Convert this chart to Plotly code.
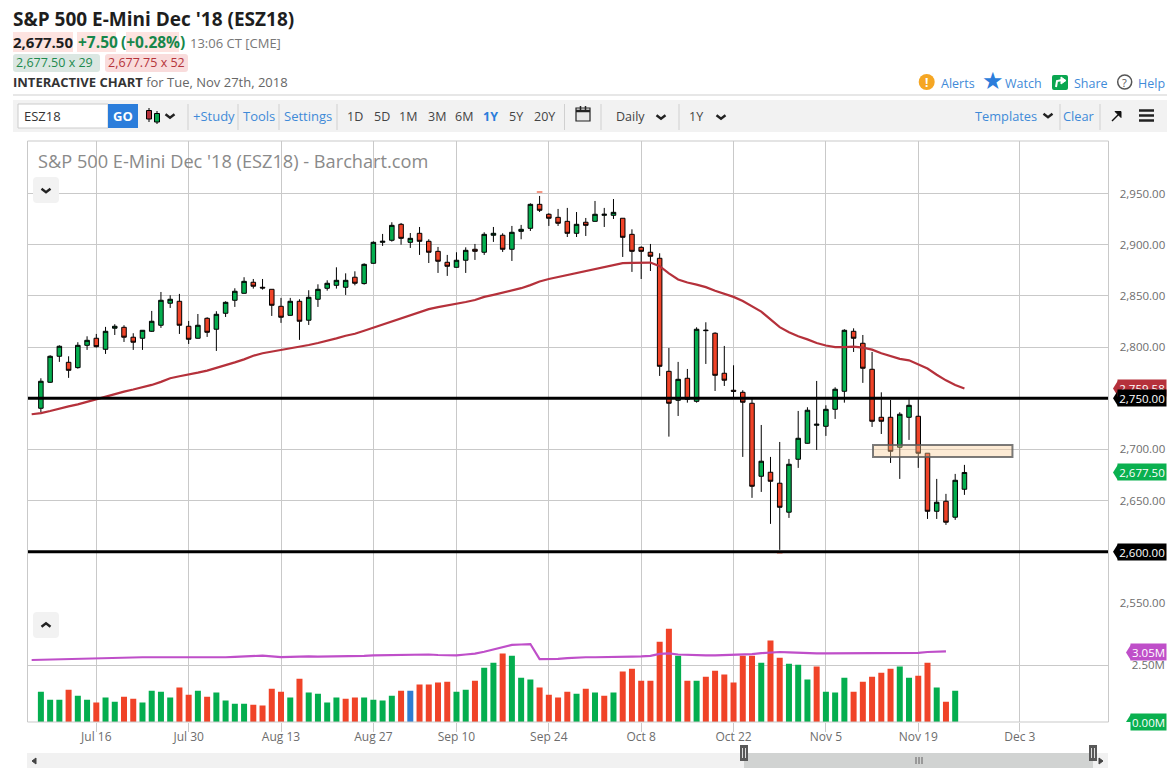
import plotly.graph_objects as go

W, H = 1171, 778
FONT = "Open Sans"

# ---- data: daily bars, index 0 = Jul 6 2018 ... index 100 = Nov 27 2018
highs = [2769.5,2792,2801.7,2791,2804.7,2810.5,2812.8,2819.7,2822.3,2821.3,2813.5,2816.4,2835.3,2853.8,2850.6,2851.9,2825.5,2832.3,2829.1,2835,
 2844.7,2857.4,2868.2,2866.5,2866.5,2856.4,2848,2848,2846.7,2855.5,2861.3,2865.2,2877.9,2872,2874,2881.8,2903.3,2910.5,2921.9,2921.2,
 2911.4,2917.3,2905.3,2897.8,2890,2892.6,2897.4,2900.7,2912.1,2917.3,2911.1,2918.3,2919.3,2940.4,2947.6,2930.7,2934.9,2935.9,2931.9,2926.1,
 2942.7,2935.9,2944.6,2925.8,2915,2898.4,2900.7,2891.6,2799.1,2785.5,2778.6,2819.3,2824.2,2814.4,2801.1,2782.2,2757.8,2750,2723.9,2692.7,
 2707.3,2690.7,2737.6,2741.2,2766.9,2743.1,2760.7,2817.4,2818.3,2811.8,2795.2,2755.8,2748.4,2736.3,2749,2749,2696.3,2671.2,2656.6,2676.1,2684.9]
body_top = [2766.6,2791,2800.8,2785.1,2801.7,2806.6,2808.6,2815.4,2820.3,2819.3,2809.6,2816.4,2825.2,2845.7,2846.7,2844.7,2820.3,2821.3,2828.1,2832,
 2843.7,2854.5,2864.2,2863.3,2858.4,2856.4,2839.8,2844.7,2844.7,2848.6,2856.4,2862.3,2865.2,2865.2,2868.2,2880.8,2902.3,2903.3,2918.9,2919.9,
 2906.2,2911.1,2903.3,2893.5,2882.8,2884.8,2894.5,2895.5,2910.1,2911.1,2909.2,2912.1,2915,2939.4,2939.4,2929.7,2926.7,2922.8,2919.9,2921.9,
 2929.7,2929.7,2931.6,2925.8,2910.1,2897.4,2892.6,2886.7,2776.3,2768.5,2769.5,2817.4,2816.4,2813.5,2774.4,2757.8,2755.8,2745.1,2688.5,2677.7,
 2667,2685.5,2710.9,2738.3,2724.6,2739.2,2758.8,2816.4,2815.4,2803.7,2778.3,2731.4,2731.4,2734.4,2743.1,2732.4,2696.3,2648.4,2649.4,2669.9,2677.5]
body_bot = [2740.2,2765.6,2791,2777.3,2779.9,2801.7,2800.4,2797.8,2818.4,2809.6,2804.7,2808.6,2815.4,2821.3,2842.8,2821.3,2807.6,2808.6,2814.4,2817.4,
 2833,2845.7,2852.5,2859.4,2857.7,2840.8,2829.1,2831,2825.2,2826.2,2846.7,2857.4,2860.3,2858.4,2862.3,2862,2881.8,2902.3,2904.3,2906.2,
 2902.3,2903.3,2892.6,2883.8,2878.9,2877.9,2884.8,2893.5,2892.6,2909.2,2895.5,2895.5,2913,2916,2933.6,2925.8,2920.9,2911.1,2911.1,2918.9,
 2922.8,2928.7,2928.7,2907.2,2893.5,2893.5,2888.7,2781.2,2745.1,2748,2749,2747,2816,2772.4,2767.6,2756.8,2746.1,2664,2673.8,2668.9,
 2643.5,2638.7,2690.4,2706,2723.6,2722.6,2739.2,2756.8,2808.6,2779.3,2727.5,2727.5,2698.2,2702.1,2731.4,2696.3,2639.6,2639.6,2628.9,2633.8,2661.1]
lows = [2736.3,2765,2785.5,2769.9,2778.9,2797.2,2799.5,2793.3,2811.8,2805,2797.2,2797.2,2814.8,2818.7,2838.2,2812.8,2803,2808.3,2809.9,2796.2,
 2829.4,2839.2,2852.2,2857.1,2856.1,2830.4,2823.6,2830.7,2807,2821.6,2839.2,2855.1,2857.1,2850.9,2860.3,2861,2881.5,2898.8,2903,2900,
 2896.8,2890,2882.1,2872.4,2869.5,2877.6,2872.4,2885.1,2890,2902.7,2892.9,2884.1,2905.3,2913.4,2931.9,2918.3,2918.3,2907.5,2907.5,2908.5,
 2922.5,2917.3,2925.1,2888,2873.4,2866.5,2874.3,2771.8,2712.5,2732.7,2745.7,2745.7,2783.5,2757.1,2762,2751,2692.7,2652.7,2658.5,2627.3,
 2601.9,2633.1,2682,2705.7,2699.5,2713.2,2729.8,2745.7,2795.2,2765,2722,2715.1,2686.8,2671.2,2709.3,2682,2632.1,2632.1,2626.3,2631.2,2655.6]
candle_dir = list("GGGRGGRGGRRGGGGRRGRG" "GGGRRRRGRGGGGGRGGGGR" "GRRRRGGRGGRGGGRRRRGR" "GGGRRRRRRGRGGRRRRRGR" "RGGGGGGGRRRRRGGRRGRGG")

volume = [1.33,.98,.98,1.42,1.15,.98,.85,1.07,.89,1.11,1.02,.85,1.37,1.33,1.07,1.51,1.20,1.37,1.11,1.29,
 .94,.80,.80,.76,.72,1.46,1.33,1.07,1.90,1.29,1.24,.85,1.07,1.02,1.07,1.07,.98,.94,1.15,1.37,
 1.37,1.64,1.64,1.73,1.77,1.33,1.42,1.81,2.38,2.60,3.00,2.91,1.94,1.86,1.51,1.20,1.07,1.33,1.24,1.46,
 1.29,1.15,1.29,2.21,2.34,1.81,1.81,3.52,4.09,2.91,1.81,1.81,1.99,2.25,2.08,1.73,2.91,2.91,2.60,3.57,
 2.82,2.56,2.51,1.86,2.43,1.33,1.29,1.94,1.33,1.77,1.99,2.16,2.34,2.43,1.94,2.03,2.60,1.51,.89,1.37]
volume_dir = list("GGGRGGRGGRRGGGGRRGRG" "GGGRRRRGRGGGGRRGGGGR" "BRRRRGGRGGRGGGRRRRGR" "GRGRRRRRRGRGRRRRRRGR" "RGGGRGGGRRRRRGGRRGRG")

price_ma = [2734.4,2735.5,2737.5,2740,2742,2744,2746.5,2749,2752,2754.5,2756.5,2758.5,2760.5,2763,2766,2769.5,2771.5,2773,2775,2777,2779.5,
 2782,2785,2788,2791.5,2794,2795.5,2797,2798.5,2800,2802,2804,2806,2808.5,2811,2813,2816,2819,2822.5,2825.5,2828.5,
 2831.5,2834.5,2837,2839,2840.5,2842,2844,2846,2849,2851,2853,2855,2857.5,2860.5,2864,2866.5,2868.5,2870,2872,2874,
 2876.5,2878.5,2880.5,2882,2882.3,2882.6,2882.5,2879,2872,2866,2863,2861,2858.5,2855,2852,2849,2845,2840,2834.6,2827,
 2819.5,2814.5,2810.5,2807.5,2804,2801.5,2800,2800,2800.5,2799.5,2797.5,2794,2791,2788.5,2787,2783,2779,2773,2767.5,2763,2759.6]
volume_ma = [2.72,2.73,2.74,2.75,2.76,2.78,2.80,2.81,2.83,2.84,2.84,2.84,2.84,2.84,2.84,2.84,2.82,2.81,2.81,2.81,2.82,
 2.84,2.86,2.88,2.90,2.91,2.88,2.85,2.86,2.88,2.88,2.87,2.87,2.88,2.88,2.89,2.90,2.92,2.93,2.94,2.95,
 2.96,2.97,2.96,2.94,2.92,2.92,2.96,3.00,3.08,3.18,3.28,3.38,3.40,3.42,2.76,2.76,2.77,2.80,2.83,2.84,
 2.84,2.84,2.85,2.86,2.87,2.88,2.90,2.99,3.01,2.96,2.94,2.93,2.92,2.92,2.93,2.94,2.96,2.98,3.02,3.05,
 3.07,3.05,3.03,3.02,3.01,3.01,3.01,3.01,3.00,3.00,3.01,3.01,3.00,3.00,3.00,3.03,3.07,3.10,3.10]

tick_labels = ["Jul 16","Jul 30","Aug 13","Aug 27","Sep 10","Sep 24","Oct 8","Oct 22","Nov 5","Nov 19","Dec 3"]
tick_index = [6,16,26,36,45,55,65,75,85,95,106]
price_ticks = [2550,2650,2700,2800,2850,2900,2950]
support_levels = [2750, 2600]
zone_low, zone_high = 2692.7, 2704.4
zone_from, zone_to = 90.1, 105.2
extreme_idx = [54, 80]
extreme_val = [2951.5, 2599.0]

GREEN, RED, BLUE = "#04ae4f", "#f04328", "#2f7dd2"
LINK = "#3f8ad8"
GRID = "#c9c9c9"

n = len(highs)
x_c = list(range(n))
opens, closes = [], []
for i in range(n):
    if candle_dir[i] == "G":
        opens.append(body_bot[i]); closes.append(body_top[i])
    else:
        opens.append(body_top[i]); closes.append(body_bot[i])

px = lambda x: x / W
py = lambda y: 1 - y / H

fig = go.Figure()
fig.add_trace(go.Candlestick(x=x_c, open=opens, high=highs, low=lows, close=closes, xaxis="x", yaxis="y",
    increasing=dict(fillcolor=GREEN, line=dict(color="#000000", width=1)),
    decreasing=dict(fillcolor=RED, line=dict(color="#000000", width=1)),
    whiskerwidth=0, hoverinfo="skip"))
fig.add_trace(go.Scatter(x=list(range(-1, n)), y=price_ma, mode="lines", xaxis="x", yaxis="y",
    line=dict(color="#b5313b", width=2.2), hoverinfo="skip"))
fig.add_trace(go.Scatter(x=extreme_idx, y=extreme_val, mode="markers", xaxis="x", yaxis="y",
    marker=dict(symbol="line-ew", size=4, line=dict(color="#f0735a", width=1.5)), hoverinfo="skip"))
cmap = {"G": GREEN, "R": RED, "B": BLUE}
fig.add_trace(go.Bar(x=list(range(len(volume))), y=volume, marker=dict(color=[cmap[c] for c in volume_dir], line=dict(width=0)),
    width=0.65, xaxis="x", yaxis="y2", hoverinfo="skip"))
fig.add_trace(go.Scatter(x=list(range(-1, len(volume_ma) - 1)), y=volume_ma, mode="lines", xaxis="x", yaxis="y2",
    line=dict(color="#bf4fc9", width=2.2), hoverinfo="skip"))

shapes, ann = [], []

def rect(x0, y0, x1, y1, fill=None, line=None, lw=1, layer="above"):
    shapes.append(dict(type="rect", xref="paper", yref="paper", x0=px(x0), x1=px(x1), y0=py(y0), y1=py(y1),
        fillcolor=fill or "rgba(0,0,0,0)", line=dict(color=line or "rgba(0,0,0,0)", width=lw if line else 0), layer=layer))

def rrect(x0, y0, x1, y1, r, fill):
    p = (f"M{px(x0+r)},{py(y0)} L{px(x1-r)},{py(y0)} Q{px(x1)},{py(y0)} {px(x1)},{py(y0+r)} L{px(x1)},{py(y1-r)} "
         f"Q{px(x1)},{py(y1)} {px(x1-r)},{py(y1)} L{px(x0+r)},{py(y1)} Q{px(x0)},{py(y1)} {px(x0)},{py(y1-r)} "
         f"L{px(x0)},{py(y0+r)} Q{px(x0)},{py(y0)} {px(x0+r)},{py(y0)} Z")
    shapes.append(dict(type="path", xref="paper", yref="paper", path=p, fillcolor=fill, line=dict(width=0), layer="above"))

def poly(pts, color, width=2, fill=None, close=False):
    p = "M" + " L".join(f"{px(a)},{py(b)}" for a, b in pts) + (" Z" if close else "")
    shapes.append(dict(type="path", xref="paper", yref="paper", path=p, fillcolor=fill or "rgba(0,0,0,0)",
                       line=dict(color=color, width=width), layer="above"))

def circle(cx, cy, r, fill=None, line=None, lw=1.5):
    shapes.append(dict(type="circle", xref="paper", yref="paper", x0=px(cx-r), x1=px(cx+r), y0=py(cy-r), y1=py(cy+r),
        fillcolor=fill or "rgba(0,0,0,0)", line=dict(color=line or "rgba(0,0,0,0)", width=lw if line else 0), layer="above"))

def txt(x, y, s, size=13, color="#333", anchor="left", family=FONT):
    ann.append(dict(xref="paper", yref="paper", x=px(x), y=py(y), text=s, showarrow=False, xanchor=anchor, yanchor="middle",
        font=dict(size=size, color=color, family=family), borderpad=0, borderwidth=0))

def vline(x, y0, y1):
    poly([(x, y0), (x, y1)], "#d0d0d0", 1)

def chevron(cx, cy, w=4.5, h=3.5, up=False, color="#222", lw=2.4):
    s = -1 if up else 1
    poly([(cx-w, cy-s*h/2), (cx, cy+s*h/2), (cx+w, cy-s*h/2)], color, lw)

# price levels and zone
for lv in support_levels:
    shapes.append(dict(type="line", xref="paper", yref="y", x0=px(27.5), x1=px(1108.5), y0=lv, y1=lv,
                       line=dict(color="#000000", width=3), layer="above"))
shapes.append(dict(type="rect", xref="x", yref="y", x0=zone_from, x1=zone_to, y0=zone_low, y1=zone_high,
                   fillcolor="rgba(250,205,150,0.4)", line=dict(color="rgba(90,90,90,0.8)", width=2), layer="above"))

# price / volume tags on the right
def tag(val, yref, text, color, x0, x1):
    shapes.append(dict(type="path", xref="paper", yref=yref, xsizemode="pixel", ysizemode="pixel",
        xanchor=px(x0), yanchor=val, path="M-5,0 L0,-8 L0,8 Z", fillcolor=color, line=dict(width=0), layer="above"))
    ann.append(dict(xref="paper", yref=yref, x=px((x0+x1)/2), y=val, text=text, showarrow=False, xanchor="center", yanchor="middle",
        width=x1-x0, height=16, bgcolor=color, borderpad=0, font=dict(size=11.5, color="#ffffff", family=FONT)))

tag(price_ma[-1], "y", "2,759.58", "#b5313b", 1118, 1166)
tag(2750, "y", "2,750.00", "#000000", 1118, 1166)
tag(closes[-1], "y", "2,677.50", "#0ab04f", 1118, 1166)
tag(2600, "y", "2,600.00", "#000000", 1118, 1166)
tag(3.05, "y2", "3.05M", "#bf4fc9", 1131, 1166)
tag(0, "y2", "0.00M", "#0ab04f", 1131, 1166)

# header
txt(13, 19, "<b>S&P 500 E-Mini Dec '18 (ESZ18)</b>", 19, "#1e1e1e")
rect(13, 32, 73, 52, "#fde3e0"); rect(77, 32, 116, 52, "#fde3e0"); rect(126, 32, 179, 52, "#fde3e0")
txt(13, 42.5, "<b>2,677.50</b>", 15, "#1e1e1e")
txt(77.5, 42.5, "<b>+7.50</b>", 15.5, "#17874b")
txt(120.5, 42.5, "<b>(+0.28%)</b>", 15.5, "#17874b")
txt(190, 43, "13:06 CT [CME]", 13, "#777")
rrect(13, 54, 100, 72, 3, "#dbe7e2"); rrect(105, 54, 188, 72, 3, "#f9dcdc")
txt(16, 63, "2,677.50 x 29", 12.5, "#1e8a4e")
txt(108, 63, "2,677.75 x 52", 12.5, "#b5333a")
txt(13, 82, "<b>INTERACTIVE CHART</b> <span style='color:#666'>for Tue, Nov 27th, 2018</span>", 13, "#333")

# header right
circle(926.7, 82, 8, "#f5a623")
txt(926.7, 82, "<b>!</b>", 12, "#ffffff", "center")
txt(941, 83, "Alerts", 12.5, LINK)
txt(993, 81.5, "★", 24, "#2b7ddb", "center", "DejaVu Sans")
txt(1005, 83, "Watch", 12.5, LINK)
rrect(1052, 75, 1068, 90, 2, "#0aa650")
poly([(1056, 87), (1057, 81), (1062, 80)], "#ffffff", 2)
poly([(1061, 77), (1066, 80.5), (1061, 84)], "#ffffff", 1, "#ffffff", True)
txt(1074, 83, "Share", 12.5, LINK)
circle(1124.7, 82, 7, None, "#555", 1.5)
txt(1124.7, 82, "?", 11, "#555", "center")
txt(1138, 83, "Help", 12.5, LINK)

# toolbar
poly([(13, 95), (1167, 95)], "#cfcfcf", 1)
rect(13, 100, 1167, 132, "#f2f2f2")
rect(18, 104, 108, 128, "#ffffff", "#cccccc", 1)
txt(24, 116, "ESZ18", 13, "#333")
rect(108, 104, 138, 128, "#2b7ddb")
txt(123, 116, "<b>GO</b>", 13, "#ffffff", "center")
poly([(149, 108), (149, 122)], "#000", 1)
rect(146.5, 110.5, 151.5, 119, "#b5313b", "#000", 1)
poly([(157, 111), (157, 124)], "#000", 1)
rect(154.5, 113.5, 159.5, 122, "#0aa650", "#000", 1)
chevron(170, 116)
for sx in (188, 238, 279, 337, 564.5, 601, 679, 1060, 1100):
    vline(sx, 104, 130)
txt(193, 116, "+Study", 13, LINK)
txt(243, 116, "Tools", 13, LINK)
txt(283.5, 116, "Settings", 13, LINK)
for tx, s in zip((347, 373.5, 399, 427.5, 455, 509, 533.5), ("1D", "5D", "1M", "3M", "6M", "5Y", "20Y")):
    txt(tx, 116, s, 12.5, "#444", "left")
txt(483, 116, "<b>1Y</b>", 12.5, "#2b7ddb")
# calendar icon
rect(576, 108, 590, 121, "#e8e8e8", "#222", 1.2)
poly([(576, 111), (590, 111)], "#222", 2.5)
for cx in (580.5, 585.5):
    poly([(cx, 106), (cx, 110)], "#222", 1.5)
txt(616, 116, "Daily", 12.5, "#444")
chevron(661, 117)
txt(689, 116, "1Y", 12.5, "#444")
chevron(721, 117)
txt(975, 116, "Templates", 12.8, LINK)
chevron(1048, 115.5)
txt(1063, 116, "Clear", 12.8, LINK)
poly([(1112, 121), (1120, 113)], "#111", 1.5)
poly([(1115, 111.5), (1121, 111.5), (1121, 117.5)], "#111", 1, "#111", True)
for yy in (110.5, 115.5, 120.5):
    poly([(1139, yy), (1154, yy)], "#222", 2.5)

# chart title + collapse buttons
txt(38, 161, "S&P 500 E-Mini Dec '18 (ESZ18) - Barchart.com", 18.2, "#8a8a8a")
rrect(33, 177, 59, 203, 4, "#f2f2f2"); chevron(46, 190.5)
rrect(33, 612, 59, 638, 4, "#f2f2f2"); chevron(46, 625, up=True)

# panel frame
rect(27.5, 141, 1108.5, 722, None, GRID, 1)

# scrollbar
rect(27, 753, 1108, 768, "#f1f1f1")
rect(744, 753, 1093, 768, "#d1d3d2")
poly([(36, 758), (32, 761), (36, 764)], "#444", 1, "#444", True)
poly([(1099, 758), (1103, 761), (1099, 764)], "#444", 1, "#444", True)
for hx in (744, 1093):
    rect(hx-4, 745, hx+4, 761, "#595959")
    for d in (-1.5, 1.5):
        poly([(hx+d, 748), (hx+d, 758)], "#ddd", 1)
for d in (-3, 0, 3):
    poly([(919+d, 757), (919+d, 764)], "#999", 2)

fig.update_layout(
    width=W, height=H, margin=dict(l=0, r=0, t=0, b=0, pad=0, autoexpand=False), autosize=False,
    paper_bgcolor="#ffffff", plot_bgcolor="#ffffff", showlegend=False, barmode="overlay", hovermode=False,
    font=dict(family=FONT, color="#666"),
    shapes=shapes, annotations=ann,
    xaxis=dict(domain=[px(27.5), px(1108.5)], anchor="y2", range=[-1.45, 115.6], rangeslider=dict(visible=False),
        tickmode="array", tickvals=tick_index, ticktext=tick_labels, ticks="outside", ticklen=9, tickcolor=GRID,
        ticklabelstandoff=-5,
        showgrid=True, gridcolor=GRID, gridwidth=1, zeroline=False, showline=False, automargin=False,
        tickfont=dict(size=12, color="#6d6d6d", family=FONT)),
    yaxis=dict(domain=[py(603), py(141)], range=[2550, 3001.27], anchor="x", side="right", tickmode="array",
        tickvals=price_ticks, tickformat=",.2f", ticks="outside", ticklen=8, tickcolor="rgba(0,0,0,0)",
        showgrid=True, gridcolor=GRID, gridwidth=1, zeroline=False, showline=False, automargin=False,
        tickfont=dict(size=11.5, color="#6d6d6d", family=FONT)),
    yaxis2=dict(domain=[py(722), py(603)], range=[0, 5.22], anchor="x", side="right", tickmode="array",
        tickvals=[2.5], ticktext=["2.50M"], ticks="outside", ticklen=20, tickcolor="rgba(0,0,0,0)",
        showgrid=True, gridcolor=GRID, gridwidth=1, zeroline=False, showline=False, automargin=False,
        tickfont=dict(size=11.5, color="#6d6d6d", family=FONT)),
)

fig.write_html("out.html", config=dict(displayModeBar=False, responsive=False),
               post_script="document.body.style.margin='0';document.body.style.overflow='hidden';")
